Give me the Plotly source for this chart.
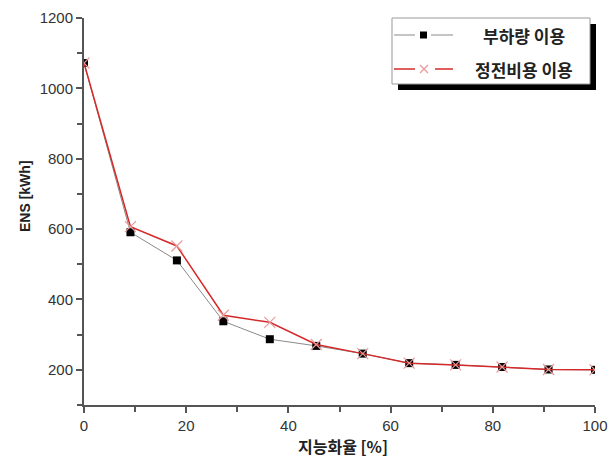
import plotly.graph_objects as go

# Data
x_rate = [0, 9.09, 18.18, 27.27, 36.36, 45.45, 54.55, 63.64, 72.73, 81.82, 90.91, 100]
ens_load = [1072, 591, 511, 338, 287, 268, 246, 219, 214, 208, 201, 200]
ens_cost = [1072, 607, 552, 355, 335, 272, 246, 219, 214, 208, 201, 200]
series_names = ["부하량 이용", "정전비용 이용"]
x_title = "지능화율 [%]"
y_title = "ENS [kWh]"

W, H = 615, 459
L, R, T, B = 84, 595, 18, 405

def px(x):
    return (x - L) / (R - L)

def py(y):
    return (B - y) / (B - T)

fig = go.Figure()
fig.add_trace(go.Scatter(
    x=x_rate, y=ens_load, name=series_names[0], mode="lines+markers",
    line=dict(color="#8a8a8a", width=1),
    marker=dict(symbol="square", size=8, color="black"),
))
fig.add_trace(go.Scatter(
    x=x_rate, y=ens_cost, name=series_names[1], mode="lines+markers",
    line=dict(color="#d42a2a", width=1.5),
    marker=dict(symbol="x-thin", size=11, line=dict(color="#e89a9a", width=1.2)),
))

axis_font = dict(family="Liberation Sans, Arial", size=15, color="#333333")

fig.update_xaxes(
    range=[0, 100], tick0=0, dtick=20, ticks="outside", ticklen=6, tickwidth=1.5,
    tickcolor="#555555", showline=True, linecolor="#555555", linewidth=2,
    showgrid=False, zeroline=False, tickfont=axis_font, automargin=False,
    minor=dict(dtick=10, ticks="outside", ticklen=5, tickcolor="#555555", tickwidth=1.5, showgrid=False),
)
fig.update_yaxes(
    range=[100, 1200], tick0=0, dtick=200, ticks="outside", ticklen=6, tickwidth=1.5,
    tickcolor="#555555", showline=True, linecolor="#555555", linewidth=2,
    showgrid=False, zeroline=False, tickfont=axis_font, automargin=False,
    minor=dict(dtick=100, ticks="outside", ticklen=5, tickcolor="#555555", tickwidth=1.5, showgrid=False),
)

# Manual legend box with drop shadow
bx0, bx1, by0, by1 = 392, 590, 18, 84
shapes = [
    dict(type="rect", xref="paper", yref="paper", x0=px(bx0 + 6), x1=px(bx1 + 6), y0=py(by1 + 6), y1=py(by0 + 6),
         fillcolor="black", line=dict(width=0), layer="above"),
    dict(type="rect", xref="paper", yref="paper", x0=px(bx0), x1=px(bx1), y0=py(by1), y1=py(by0),
         fillcolor="white", line=dict(color="#999999", width=1), layer="above"),
]
r1, r2 = 35, 69
for (a, b) in [(394, 415), (431, 453)]:
    shapes.append(dict(type="line", xref="paper", yref="paper", x0=px(a), x1=px(b), y0=py(r1), y1=py(r1),
                       line=dict(color="#8a8a8a", width=1), layer="above"))
for (a, b) in [(394, 415), (435, 453)]:
    shapes.append(dict(type="line", xref="paper", yref="paper", x0=px(a), x1=px(b), y0=py(r2), y1=py(r2),
                       line=dict(color="#d42a2a", width=1.5), layer="above"))
shapes.append(dict(type="rect", xref="paper", yref="paper", x0=px(420), x1=px(427), y0=py(r1 + 3.5), y1=py(r1 - 3.5),
                   fillcolor="black", line=dict(width=0), layer="above"))
shapes.append(dict(type="line", xref="paper", yref="paper", x0=px(420), x1=px(428), y0=py(r2 - 4), y1=py(r2 + 4),
                   line=dict(color="#e89a9a", width=1.2), layer="above"))
shapes.append(dict(type="line", xref="paper", yref="paper", x0=px(420), x1=px(428), y0=py(r2 + 4), y1=py(r2 - 4),
                   line=dict(color="#e89a9a", width=1.2), layer="above"))

kfont = dict(family="Noto Sans CJK KR", size=17, color="#222222")
annotations = [
    dict(text="<b>" + series_names[0] + "</b>", xref="paper", yref="paper", x=px(524), y=py(r1),
         showarrow=False, xanchor="center", yanchor="middle", font=kfont),
    dict(text="<b>" + series_names[1] + "</b>", xref="paper", yref="paper", x=px(524), y=py(r2),
         showarrow=False, xanchor="center", yanchor="middle", font=kfont),
    dict(text="<b>" + x_title + "</b>", xref="paper", yref="paper", x=px(343), y=py(446),
         showarrow=False, xanchor="center", yanchor="middle",
         font=dict(family="Noto Sans CJK KR", size=16, color="#222222")),
    dict(text="<b>" + y_title + "</b>", xref="paper", yref="paper", x=px(25), y=py(196),
         showarrow=False, xanchor="center", yanchor="middle", textangle=-90,
         font=dict(family="Liberation Sans, Arial", size=14, color="#222222")),
]

fig.update_layout(
    width=W, height=H,
    margin=dict(l=L, r=W - R, t=T, b=H - B, autoexpand=False),
    paper_bgcolor="white", plot_bgcolor="white",
    showlegend=False, shapes=shapes, annotations=annotations,
)

fig.write_html("out.html", config={"displayModeBar": False},
               post_script="document.body.style.margin='0';")
